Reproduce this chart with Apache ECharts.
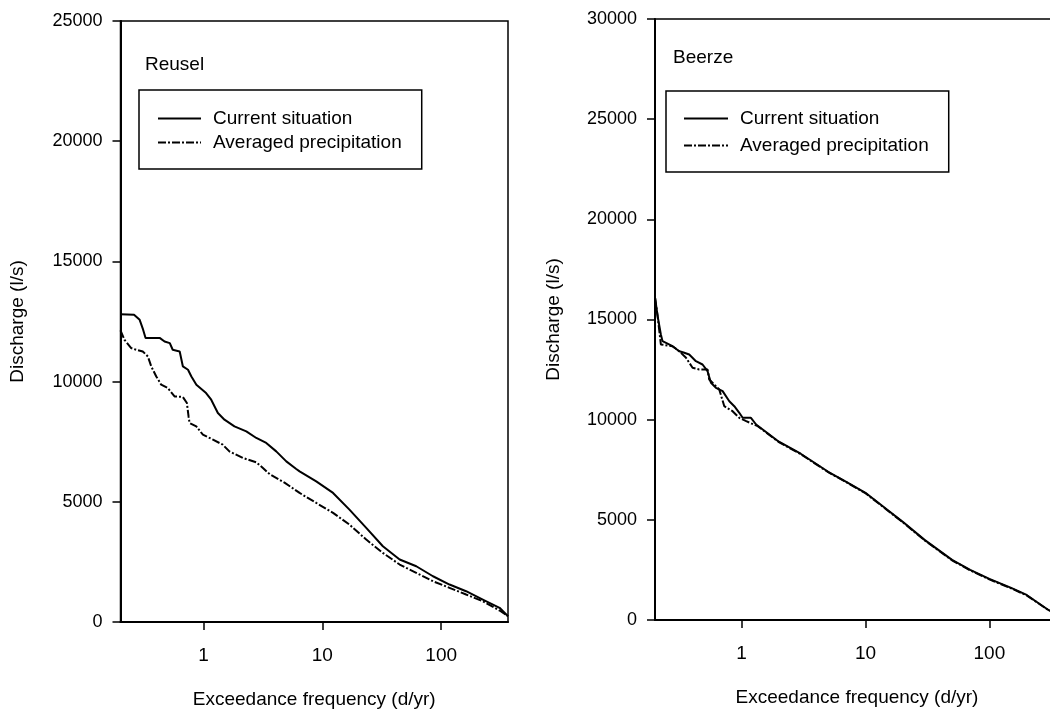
<!DOCTYPE html>
<html>
<head>
<meta charset="utf-8">
<script src="https://cdn.jsdelivr.net/npm/echarts@6/dist/echarts.min.js"></script>
<style>
html,body{margin:0;padding:0;background:#fff;}
#chart{width:1050px;height:713px;}
</style>
</head>
<body>
<div id="chart"></div>
<script>
// ---------- data ----------
var panelTitles = ['Reusel', 'Beerze'];
var seriesNames = ['Current situation', 'Averaged precipitation'];
var xTickValues = [1, 10, 100];
var xAxisName = 'Exceedance frequency (d/yr)';
var yAxisName = 'Discharge (l/s)';

// Reusel - current situation
var reuselCurX = [0.2,0.26,0.29,0.31,0.325,0.43,0.47,0.52,0.55,0.63,0.67,0.74,0.79,0.87,1.05,1.16,1.32,1.5,1.82,2.29,2.78,3.37,4.09,4.97,6.03,6.43,8.88,12.3,16.9,23.4,32.3,44.7,61.7,85.3,117.5,162,224,310,365];
var reuselCurY = [12800,12780,12570,12160,11810,11810,11670,11600,11325,11255,10630,10494,10215,9870,9525,9247,8694,8416,8137,7930,7655,7447,7098,6683,6367,6267,5852,5369,4676,3915,3150,2598,2319,1903,1559,1280,935,590,241];
// Reusel - averaged precipitation
var reuselAvgX = [0.2,0.216,0.246,0.271,0.308,0.34,0.363,0.4,0.44,0.5,0.57,0.67,0.724,0.748,0.762,0.869,0.987,1.2,1.45,1.65,2.14,2.78,3.16,3.6,4.8,6.43,8.88,12.3,16.9,23.4,32.3,44.7,61.7,85.3,117.5,162,224,310,365];
var reuselAvgY = [12127,11740,11395,11325,11255,11047,10630,10215,9870,9733,9385,9360,9110,8553,8280,8137,7792,7585,7377,7098,6824,6641,6408,6150,5800,5369,4954,4538,4052,3429,2876,2390,2045,1696,1421,1143,864,478,241];
// Beerze - current situation
var beerzeCurX = [0.2,0.21,0.223,0.23,0.277,0.314,0.34,0.378,0.428,0.484,0.531,0.566,0.621,0.703,0.796,0.873,0.958,1.02,1.19,1.31,2,3,5,7,10,15,20,30,50,70,100,150,200,300,365];
var beerzeCurY = [16100,15166,14252,13918,13668,13418,13350,13254,12919,12754,12420,11841,11591,11422,10922,10673,10343,10094,10094,9759,8900,8300,7400,6900,6350,5500,4900,4000,3000,2500,2050,1600,1250,500,300];
// Beerze - averaged precipitation
var beerzeAvgX = [0.2,0.21,0.223,0.277,0.314,0.356,0.402,0.455,0.531,0.548,0.66,0.725,0.846,0.958,1.09,1.35,2,3,5,7,10,15,20,30,50,70,100,150,200,300,365];
var beerzeAvgY = [16100,15166,13753,13668,13418,13089,12590,12505,12505,12006,11507,10673,10423,10094,9924,9675,8880,8280,7380,6880,6330,5480,4880,3980,2980,2480,2030,1580,1230,490,300];

// ---------- helpers ----------
function zip(xs, ys){ return xs.map(function(x,i){ return [x, ys[i]]; }); }
var FONT = '"Liberation Sans", Arial, sans-serif';

var chart = echarts.init(document.getElementById('chart'), null, {renderer:'canvas'});

function xAxisCfg(gridIndex){
  return {
    type:'log', logBase:10, gridIndex:gridIndex, min:0.2, max:365,
    name: xAxisName, nameLocation:'middle', nameGap:68,
    nameTextStyle:{fontSize:19, fontFamily:FONT, color:'#000'},
    axisLine:{show:true, lineStyle:{color:'#000', width:2}},
    axisTick:{show:true, inside:false, length:8, lineStyle:{color:'#000', width:1.5}, customValues: xTickValues},
    axisLabel:{fontSize:19, fontFamily:FONT, color:'#000', margin:24, customValues: xTickValues,
               formatter:function(v){ return String(Math.round(v)); }},
    splitLine:{show:false}, minorTick:{show:false}
  };
}
function yAxisCfg(gridIndex, max, gap){
  return {
    type:'value', gridIndex:gridIndex, min:0, max:max, interval:5000,
    name: yAxisName, nameLocation:'middle', nameGap:gap, nameRotate:90,
    nameTextStyle:{fontSize:19, fontFamily:FONT, color:'#000'},
    axisLine:{show:true, lineStyle:{color:'#000', width:2}},
    axisTick:{show:true, inside:false, length:8, lineStyle:{color:'#000', width:1.5}},
    axisLabel:{fontSize:18, fontFamily:FONT, color:'#000', margin:18,
               formatter:function(v){ return String(v); }},
    splitLine:{show:false}
  };
}
function lineSeries(name, data, idx, dashed){
  return {
    type:'line', name:name, xAxisIndex:idx, yAxisIndex:idx, data:data,
    symbol:'none', smooth:false, silent:true, clip:true,
    lineStyle:{color:'#000', width:2, type: dashed ? [8,2,2,2] : 'solid'},
    itemStyle:{color:'#000'}
  };
}
function legendCfg(left, top, pad, gap, iw){
  return {
    orient:'vertical', left:left, top:top, padding:pad, itemGap:gap,
    itemWidth:iw, itemHeight:14, borderColor:'#000', borderWidth:1.5,
    selectedMode:false, data: seriesNames.slice(),
    itemStyle:{opacity:0, color:'rgba(0,0,0,0)', borderWidth:0},
    lineStyle:{width:2, color:'#000'},
    textStyle:{fontSize:19, fontFamily:FONT, color:'#000', lineHeight:19, padding:[0,0,0,7]}
  };
}

var option = {
  animation:false,
  backgroundColor:'#fff',
  title:[
    {text:panelTitles[0], left:145, top:55.5, padding:0, textStyle:{fontSize:19, fontWeight:'normal', fontFamily:FONT, color:'#000'}},
    {text:panelTitles[1], left:673, top:48, padding:0, textStyle:{fontSize:19, fontWeight:'normal', fontFamily:FONT, color:'#000'}}
  ],
  legend:[
    legendCfg(139, 90, [19,20,17,18], 5, 43),
    legendCfg(666, 91, [18,20,17,17], 8, 44)
  ],
  grid:[
    {left:120.5, top:21, width:387.5, height:601, show:true, borderColor:'#000', borderWidth:1.5, backgroundColor:'transparent', containLabel:false, outerBoundsMode:'none'},
    {left:655, top:19, width:404, height:601, show:true, borderColor:'#000', borderWidth:1.5, backgroundColor:'transparent', containLabel:false, outerBoundsMode:'none'}
  ],
  xAxis:[xAxisCfg(0), xAxisCfg(1)],
  yAxis:[yAxisCfg(0, 25000, 93), yAxisCfg(1, 30000, 92)],
  series:[
    lineSeries(seriesNames[0], zip(reuselCurX, reuselCurY), 0, false),
    lineSeries(seriesNames[1], zip(reuselAvgX, reuselAvgY), 0, true),
    lineSeries(seriesNames[0], zip(beerzeCurX, beerzeCurY), 1, false),
    lineSeries(seriesNames[1], zip(beerzeAvgX, beerzeAvgY), 1, true)
  ]
};
chart.setOption(option);
</script>
</body>
</html>
